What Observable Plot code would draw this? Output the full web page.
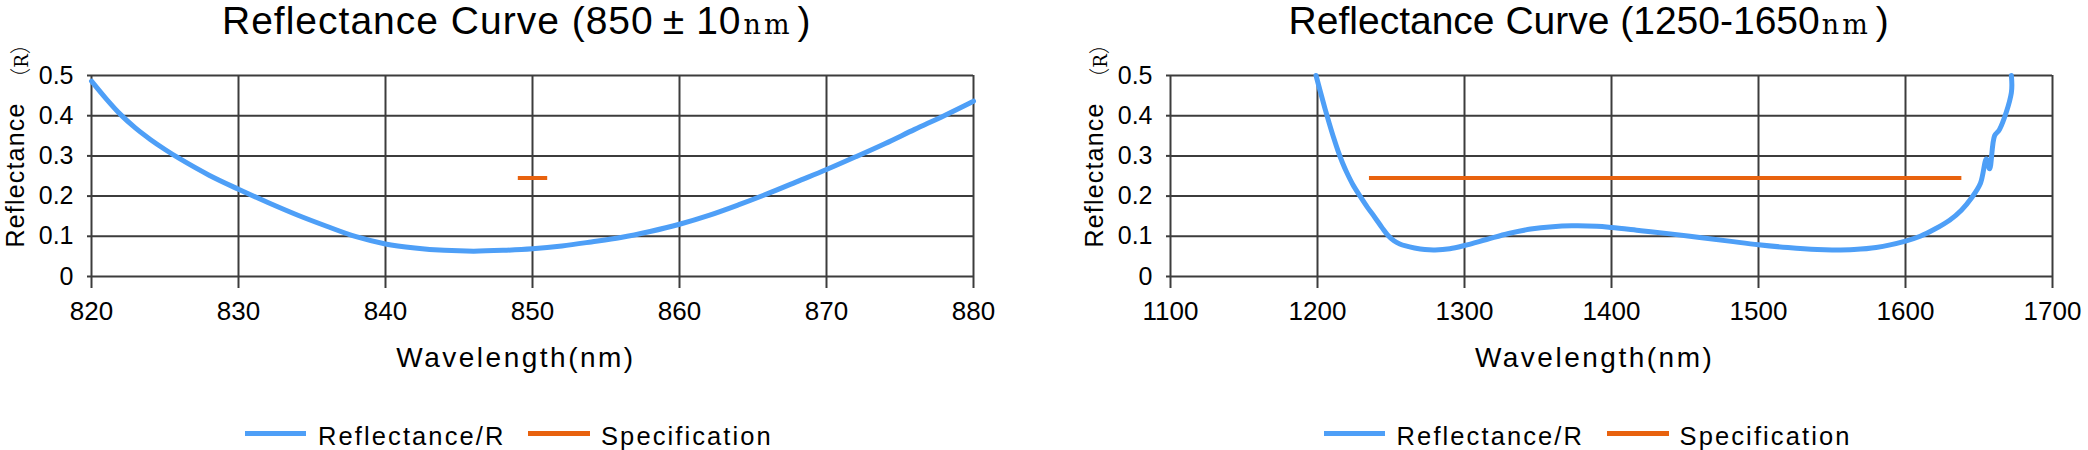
<!DOCTYPE html>
<html><head><meta charset="utf-8">
<script src="https://cdn.jsdelivr.net/npm/d3@7"></script>
<script src="https://cdn.jsdelivr.net/npm/@observablehq/plot@0.6"></script>
<style>
html,body{margin:0;padding:0;background:#fff;}
#root{position:relative;width:2088px;height:450px;overflow:hidden;font-family:"Liberation Sans",Arial,sans-serif;color:#000;background:#fff;}
.panel{position:absolute;top:0;width:1010px;height:450px;}
.abs{position:absolute;white-space:nowrap;}
.title{font-size:39px;line-height:44px;top:-1px;}
.t0{letter-spacing:1px;}
.pm{display:inline-block;margin:0 11px 0 9px;}
.nm{font-family:"DejaVu Serif";font-size:27px;letter-spacing:3px;margin-left:2px;}
.cp{margin-left:5px;}
.xlabel{font-size:28px;line-height:32px;letter-spacing:2.5px;transform:translate(-50%,-50%);}
.ylabel{font-size:25px;line-height:28px;letter-spacing:1.2px;transform:translate(-50%,-50%) rotate(-90deg);}
.ylabel2{font-size:21px;line-height:24px;transform:translate(-50%,-50%) rotate(-90deg);}
.ylabel2 .r{font-family:"DejaVu Serif";font-size:18px;}
.ylabel2 .fw{font-family:"Noto Sans CJK SC";font-weight:300;}
.legline{position:absolute;height:5px;}
.legtext{font-size:25.5px;line-height:30px;letter-spacing:2.1px;}
svg{position:absolute;left:0;top:40px;}
</style></head><body><div id="root"></div>
<script>
// ---------- data ----------
const titleHead = "Reflectance Curve (";
const titleNums = [["850", "10"], ["1250-1650"]];
const xLabel = "Wavelength(nm)";
const yLabel = "Reflectance";
const yUnit = ["（", "R", "）"];
const legendNames = ["Reflectance/R", "Specification"];

const yTicks = [0, 0.1, 0.2, 0.3, 0.4, 0.5];
const xTicksLeft = [820, 830, 840, 850, 860, 870, 880];
const xTicksRight = [1100, 1200, 1300, 1400, 1500, 1600, 1700];

const wlLeft = [820, 821, 822, 823, 824, 825, 826, 828, 830, 832, 834, 836, 838, 840, 842, 844, 846, 848, 850, 852, 854, 856, 858, 860, 862, 864, 866, 868, 870, 872, 874, 876, 878, 880];
const rLeft  = [0.486, 0.442, 0.402, 0.369, 0.341, 0.316, 0.293, 0.252, 0.217, 0.184, 0.153, 0.125, 0.099, 0.081, 0.071, 0.065, 0.063, 0.065, 0.069, 0.076, 0.086, 0.097, 0.112, 0.130, 0.152, 0.178, 0.206, 0.236, 0.266, 0.298, 0.331, 0.366, 0.400, 0.436];
const specLeftWl = [849, 851];
const specLeftR = [0.245, 0.245];

const wlRight = [1199, 1202, 1205, 1208, 1211, 1214, 1217, 1220, 1224, 1229.3, 1234, 1238.8, 1244, 1248, 1252, 1256, 1260, 1266, 1273, 1280, 1290, 1300, 1315, 1330, 1345, 1360, 1373, 1390, 1400, 1420, 1440, 1460, 1480, 1500, 1520, 1540, 1550, 1565, 1580, 1600, 1610, 1620, 1630, 1638, 1645, 1651, 1655, 1657.2, 1660.6, 1664, 1672, 1672];
const rRight  = [0.500, 0.459, 0.419, 0.381, 0.345, 0.312, 0.283, 0.258, 0.229, 0.198, 0.172, 0.148, 0.121, 0.102, 0.089, 0.081, 0.076, 0.071, 0.067, 0.066, 0.069, 0.077, 0.092, 0.107, 0.118, 0.124, 0.126, 0.125, 0.122, 0.114, 0.106, 0.097, 0.088, 0.079, 0.072, 0.067, 0.066, 0.067, 0.072, 0.088, 0.100, 0.118, 0.140, 0.165, 0.196, 0.232, 0.292, 0.268, 0.350, 0.366, 0.457, 0.500];
const specRightWl = [1235, 1638];
const specRightR = [0.245, 0.245];

const BLUE = "#4e9ff7", ORANGE = "#e8620e", GRID = "#3c3c3c";

function rows(xs, ys) { return xs.map((x, i) => ({x, y: ys[i]})); }

function chart(xTicks, refl, spec) {
  const fmt = d => String(d);
  return Plot.plot({
    width: 1010, height: 340,
    marginLeft: 91, marginRight: 37, marginTop: 35, marginBottom: 104,
    style: {fontFamily: "'Liberation Sans', Arial, sans-serif", color: "#000", background: "transparent", overflow: "visible"},
    x: {domain: [xTicks[0], xTicks[xTicks.length - 1]]},
    y: {domain: [0, 0.5]},
    marks: [
      Plot.gridX(xTicks, {stroke: GRID, strokeOpacity: 1, strokeWidth: 2}),
      Plot.gridY(yTicks, {stroke: GRID, strokeOpacity: 1, strokeWidth: 2}),
      Plot.axisX(xTicks, {tickSize: 12, tickPadding: 13.5, fontSize: 26, stroke: GRID, strokeWidth: 2, fill: "#000", label: null, tickFormat: fmt}),
      Plot.axisY(yTicks, {tickSize: 4, tickPadding: 14, fontSize: 25, stroke: GRID, strokeWidth: 2, fill: "#000", label: null, tickFormat: fmt}),
      Plot.line(spec, {x: "x", y: "y", stroke: ORANGE, strokeWidth: 4, strokeLinecap: "butt"}),
      Plot.line(refl, {x: "x", y: "y", stroke: BLUE, strokeWidth: 5, curve: "catmull-rom"})
    ]
  });
}

const root = document.getElementById("root");
const panels = [
  {left: 0, titleLeft: 222, xTicks: xTicksLeft, refl: rows(wlLeft, rLeft), spec: rows(specLeftWl, specLeftR), t: 0},
  {left: 1078.6, titleLeft: 210, xTicks: xTicksRight, refl: rows(wlRight, rRight), spec: rows(specRightWl, specRightR), t: 1}
];

for (const p of panels) {
  const div = document.createElement("div");
  div.className = "panel";
  div.style.left = p.left + "px";
  root.appendChild(div);
  div.appendChild(chart(p.xTicks, p.refl, p.spec));

  const title = document.createElement("div");
  title.className = "abs title t" + p.t;
  title.style.left = p.titleLeft + "px";
  const nums = titleNums[p.t];
  const mid = nums.length === 2 ? `${nums[0]}<span class="pm">±</span>${nums[1]}` : nums[0];
  title.innerHTML = titleHead + mid + `<span class="nm">nm</span><span class="cp">)</span>`;
  div.appendChild(title);

  const xl = document.createElement("div");
  xl.className = "abs xlabel";
  xl.style.left = "516px"; xl.style.top = "357.6px";
  xl.textContent = xLabel;
  div.appendChild(xl);

  const yl = document.createElement("div");
  yl.className = "abs ylabel";
  yl.style.left = "15px"; yl.style.top = "174.5px";
  yl.textContent = yLabel;
  div.appendChild(yl);

  const yu = document.createElement("div");
  yu.className = "abs ylabel2";
  yu.style.left = "20px"; yu.style.top = "61px";
  yu.innerHTML = `<span class="fw">${yUnit[0]}</span><span class="r">${yUnit[1]}</span><span class="fw">${yUnit[2]}</span>`;
  div.appendChild(yu);

  // legend
  const L = 245;
  const items = [[0, 61, 73, BLUE, legendNames[0]], [283, 62, 356, ORANGE, legendNames[1]]];
  for (const [lx, lw, tx, col, name] of items) {
    const ln = document.createElement("div");
    ln.className = "legline";
    ln.style.left = (L + lx) + "px"; ln.style.top = "430.5px"; ln.style.width = lw + "px"; ln.style.background = col;
    div.appendChild(ln);
    const tt = document.createElement("div");
    tt.className = "abs legtext";
    tt.style.left = (L + tx) + "px"; tt.style.top = "421.2px";
    tt.textContent = name;
    div.appendChild(tt);
  }
}
</script>
</body></html>
